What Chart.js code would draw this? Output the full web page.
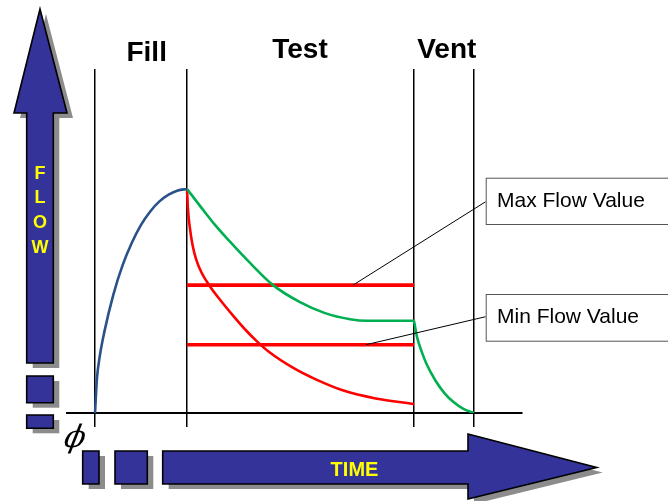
<!DOCTYPE html>
<html>
<head>
<meta charset="utf-8">
<script src="https://cdn.jsdelivr.net/npm/chart.js@4.4.1/dist/chart.umd.min.js"></script>
<style>
  html, body { margin: 0; padding: 0; background: #fff; }
  canvas { display: block; }
</style>
</head>
<body>
<canvas id="flowChart" width="668" height="501"></canvas>
<script>
// Time axis: phase boundaries (fill start, test start, vent start, vent end)
const phaseBounds = [0, 10, 34.67, 41.2];
const phaseNames = ['Fill', 'Test', 'Vent'];

// Fill phase: flow climbs to its peak
const fillTime = [0, 0.2, 0.5, 1, 2, 3, 4, 5, 6, 7, 8, 9, 10];
const fillFlow = [0, 15, 25, 36, 53, 66, 76, 84, 90, 94.5, 97.5, 99.4, 100];

// Test phase, passing part: decays and settles inside the limits
const passTime = [10, 11.41, 13.04, 14.67, 16.85, 19.35, 22.28, 25, 27.72, 29.57, 34.67];
const passFlow = [100, 92.5, 84, 76.5, 67, 57.1, 49.5, 44.6, 41.9, 41.2, 41.2];

// Vent phase of the passing part
const ventTime = [34.67, 35, 35.5, 36, 37, 38, 39, 40, 41.2];
const ventFlow = [41.2, 34, 27.5, 22.2, 14.5, 8.8, 4.8, 2, 0];

// Test phase, failing part: falls below the minimum
const failTime = [10, 10.1, 10.3, 10.6, 11, 11.6, 12.5, 13.5, 15, 16.5, 17.6, 19, 21.6, 24, 27, 30.5, 34.67];
const failFlow = [100, 91, 83, 75, 68.5, 62.5, 56.5, 51, 43.5, 36.5, 32, 27, 20, 15, 10, 6.5, 4];

// Acceptance limits during the test phase
const maxFlowLimit = 57.1;
const minFlowLimit = 30.5;

const xMin = -3.08, xMax = 46.38;
const yMin = 0, yMax = 153.6;

const pts = (xs, ys) => xs.map((x, i) => ({ x, y: ys[i] }));
const limitLine = v => [{ x: phaseBounds[1], y: v }, { x: phaseBounds[2], y: v }];

const NAVY = '#333399';
const SHADOW = '#8c8c8c';
const YELLOW = '#ffff00';
const SANS = '"Liberation Sans", Arial, sans-serif';

function tracePath(ctx, p, dx, dy) {
  ctx.beginPath();
  p.forEach(([x, y], i) => i ? ctx.lineTo(x + dx, y + dy) : ctx.moveTo(x + dx, y + dy));
  ctx.closePath();
}
function rectPts(x1, y1, x2, y2) {
  return [[x1, y1], [x2, y1], [x2, y2], [x1, y2]];
}
function blockShape(ctx, p) {
  ctx.fillStyle = SHADOW;
  tracePath(ctx, p, 6, 5);
  ctx.fill();
  ctx.fillStyle = NAVY;
  tracePath(ctx, p, 0, 0);
  ctx.fill();
  ctx.lineWidth = 1.6;
  ctx.strokeStyle = '#000';
  ctx.lineJoin = 'miter';
  ctx.stroke();
}

// Axis arrows, phase titles and callouts
const decorations = {
  id: 'decorations',
  afterDraw(chart) {
    const ctx = chart.ctx;
    const xs = chart.scales.x, ys = chart.scales.y;
    ctx.save();

    // Flow arrow and its dashes
    const flowArrow = [[40, 9], [67, 113], [53.3, 113], [53.3, 363], [26.7, 363], [26.7, 113], [14, 113]];
    blockShape(ctx, flowArrow);
    blockShape(ctx, rectPts(26.7, 376, 53.3, 402.7));
    blockShape(ctx, rectPts(26.7, 415, 53.3, 428.3));

    // Time arrow and its dashes
    blockShape(ctx, rectPts(82.7, 451, 99, 484));
    blockShape(ctx, rectPts(115, 451, 147.3, 484));
    const timeArrow = [[162.7, 451], [468, 451], [468, 434], [596.7, 467.5], [468, 499], [468, 484], [162.7, 484]];
    blockShape(ctx, timeArrow);

    // Arrow captions
    ctx.fillStyle = YELLOW;
    ctx.textAlign = 'center';
    ctx.textBaseline = 'alphabetic';
    ctx.font = 'bold 18px ' + SANS;
    const flowBaselines = [178.5, 203.3, 228.3, 252.7];
    'FLOW'.split('').forEach((ch, i) => ctx.fillText(ch, 40, flowBaselines[i]));
    ctx.font = 'bold 20px ' + SANS;
    ctx.fillText('TIME', 354.5, 475.7);

    // Origin mark
    ctx.save();
    ctx.fillStyle = '#000';
    ctx.font = 'italic 31px "DejaVu Serif", serif';
    ctx.textBaseline = 'middle';
    ctx.translate(75, 439);
    ctx.transform(1, 0, -0.2, 1, 0, 0);
    ctx.fillText('\u03D5', 0, 0);
    ctx.restore();

    // Phase titles
    ctx.fillStyle = '#000';
    ctx.textAlign = 'center';
    ctx.textBaseline = 'alphabetic';
    ctx.font = 'bold 28px ' + SANS;
    const titleX = [146.7, 300, 446.8];
    const titleY = [60.5, 58, 58];
    phaseNames.forEach((n, i) => ctx.fillText(n, titleX[i], titleY[i]));

    // Limit callouts
    const callouts = [
      { text: 'Max Flow Value', value: maxFlowLimit, at: 28.04, top: 177.7, h: 46.3, lead: 24, base: 206.7 },
      { text: 'Min Flow Value', value: minFlowLimit, at: 29.46, top: 294, h: 46.7, lead: 22.7, base: 323.3 }
    ];
    const boxLeft = 485.7;
    callouts.forEach(c => {
      ctx.strokeStyle = '#000';
      ctx.lineWidth = 1;
      ctx.beginPath();
      ctx.moveTo(boxLeft, c.top + c.lead);
      ctx.lineTo(xs.getPixelForValue(c.at), ys.getPixelForValue(c.value));
      ctx.stroke();

      ctx.fillStyle = '#fff';
      ctx.fillRect(boxLeft, c.top, 200, c.h);
      ctx.strokeStyle = '#555';
      ctx.strokeRect(boxLeft + 0.5, c.top + 0.5, 200, c.h);

      ctx.fillStyle = '#000';
      ctx.textAlign = 'left';
      ctx.font = '21px ' + SANS;
      ctx.fillText(c.text, 497, c.base);
    });

    ctx.restore();
  }
};

const common = { pointRadius: 0, borderWidth: 2.6, cubicInterpolationMode: 'monotone', fill: false };

new Chart(document.getElementById('flowChart'), {
  type: 'line',
  data: {
    datasets: [
      { ...common, label: 'Fill', data: pts(fillTime, fillFlow), borderColor: '#2a5189' },
      { ...common, label: 'Pass', data: pts(passTime, passFlow), borderColor: '#00b050' },
      { ...common, label: 'Vent', data: pts(ventTime, ventFlow), borderColor: '#00b050' },
      { ...common, label: 'Fail', data: pts(failTime, failFlow), borderColor: '#ff0000' },
      { ...common, label: 'Max Flow Value', data: limitLine(maxFlowLimit), borderColor: '#ff0000', borderWidth: 3.6, tension: 0 },
      { ...common, label: 'Min Flow Value', data: limitLine(minFlowLimit), borderColor: '#ff0000', borderWidth: 3.6, tension: 0 }
    ]
  },
  options: {
    responsive: false,
    animation: false,
    devicePixelRatio: 1,
    layout: { padding: { left: 66.7, right: 146.3, top: 69, bottom: 0 } },
    plugins: { legend: { display: false }, tooltip: { enabled: false } },
    scales: {
      x: {
        type: 'linear',
        min: xMin,
        max: xMax,
        afterBuildTicks: s => { s.ticks = phaseBounds.map(v => ({ value: v })); },
        afterFit: s => { s.height = 88; },
        ticks: { display: false },
        grid: { color: '#000', lineWidth: 1.5, tickLength: 14, drawOnChartArea: true, drawTicks: true },
        border: { display: true, color: '#000', width: 2 }
      },
      y: {
        type: 'linear',
        min: yMin,
        max: yMax,
        display: false
      }
    }
  },
  plugins: [decorations]
});
</script>
</body>
</html>
